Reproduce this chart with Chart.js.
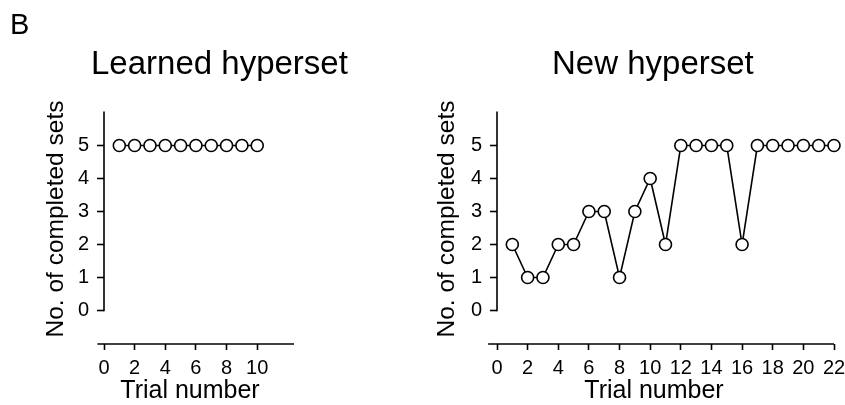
<!DOCTYPE html>
<html><head><meta charset="utf-8">
<script src="https://cdn.jsdelivr.net/npm/chart.js@4.4.0/dist/chart.umd.min.js"></script>
<style>
html,body{margin:0;padding:0;background:#fff;overflow:hidden;width:845px;height:405px;}
.t{position:absolute;font-family:"Liberation Sans",Arial,sans-serif;color:#000;white-space:nowrap;line-height:1;}
.xt{position:absolute;width:200px;text-align:center;font-family:"Liberation Sans",Arial,sans-serif;color:#000;white-space:nowrap;line-height:1;font-size:25px;top:377px;}
#wrapL{position:absolute;left:0;top:0;width:420px;height:405px;}
#wrapR{position:absolute;left:420px;top:0;width:425px;height:405px;}
</style></head><body>
<div id="wrapL"><canvas id="cL" width="420" height="405"></canvas></div>
<div id="wrapR"><canvas id="cR" width="425" height="405"></canvas></div>
<div class="t" style="left:10px;top:10px;font-size:29px;">B</div>
<div class="t" style="left:91px;top:46px;font-size:33px;">Learned hyperset</div>
<div class="t" style="left:552px;top:46px;font-size:33px;">New hyperset</div>
<div class="xt" id="xtL" style="left:90px;"></div>
<div class="xt" id="xtR" style="left:554px;"></div>
<script>
// ---- data ----
const learnedTrials = [1, 2, 3, 4, 5, 6, 7, 8, 9, 10];
const learnedSets   = [5, 5, 5, 5, 5, 5, 5, 5, 5, 5];
const newTrials = [1, 2, 3, 4, 5, 6, 7, 8, 9, 10, 11, 12, 13, 14, 15, 16, 17, 18, 19, 20, 21, 22];
const newSets   = [2, 1, 1, 2, 2, 3, 3, 1, 3, 4, 2, 5, 5, 5, 5, 2, 5, 5, 5, 5, 5, 5];
const yTickValues = [0, 1, 2, 3, 4, 5];
const learnedXTicks = [0, 2, 4, 6, 8, 10];
const newXTicks = [0, 2, 4, 6, 8, 10, 12, 14, 16, 18, 20, 22];
const yLabel = 'No. of completed sets';
const xLabel = 'Trial number';

document.getElementById('xtL').textContent = xLabel;
document.getElementById('xtR').textContent = xLabel;

const FONT = '"Liberation Sans", Arial, Helvetica, sans-serif';
Chart.defaults.font.family = FONT;
Chart.defaults.color = '#000';

const axisLines = {
  id: 'axisLines',
  beforeDatasetsDraw(chart, args, o) {
    const {ctx, chartArea, scales: {x, y}} = chart;
    ctx.save();
    ctx.strokeStyle = '#000';
    ctx.lineWidth = 1.6;
    const xp = x.getPixelForValue(0);
    ctx.beginPath();
    ctx.moveTo(xp, y.getPixelForValue(0) + 0.8);
    ctx.lineTo(xp, y.getPixelForValue(o.yTop));
    ctx.stroke();
    ctx.beginPath();
    ctx.moveTo(x.getPixelForValue(o.xFrom), chartArea.bottom);
    ctx.lineTo(x.getPixelForValue(o.xTo), chartArea.bottom);
    ctx.stroke();
    ctx.restore();
  }
};

function makeChart(id, trials, sets, xTicks, cfg) {
  const pts = trials.map((t, i) => ({x: t, y: sets[i]}));
  return new Chart(document.getElementById(id), {
    type: 'line',
    data: { datasets: [{
      data: pts,
      borderColor: '#000', borderWidth: 1.6, tension: 0,
      pointRadius: 6, pointBackgroundColor: '#fff', pointBorderColor: '#000', pointBorderWidth: 1.6,
      clip: false
    }]},
    options: {
      responsive: false, animation: false, events: [], devicePixelRatio: 1,
      layout: { padding: { top: 94, bottom: 0, left: 0, right: cfg.padRight } },
      plugins: { legend: {display: false}, tooltip: {enabled: false}, title: {display: false},
                 axisLines: { yTop: 6.03, xFrom: cfg.xFrom, xTo: cfg.xTo } },
      scales: {
        x: {
          type: 'linear', min: 0, max: cfg.xMax,
          afterBuildTicks: s => { s.ticks = xTicks.map(v => ({value: v})); },
          afterFit: s => { s.height = 61; s.paddingLeft = 0; s.paddingRight = 0; },
          border: {display: false},
          grid: {display: true, drawOnChartArea: false, drawTicks: true, tickLength: 6, tickWidth: 1.6, tickColor: '#000'},
          ticks: {color: '#000', font: {size: 20}, padding: 6, maxRotation: 0, autoSkip: false},
          title: {display: false}
        },
        y: {
          type: 'linear', min: -1.015, max: 6.561,
          afterBuildTicks: s => { s.ticks = yTickValues.map(v => ({value: v})); },
          afterFit: s => { s.width = cfg.yWidth; },
          border: {display: false},
          grid: {display: true, drawOnChartArea: false, drawTicks: true, tickLength: 7, tickWidth: 1.6, tickColor: '#000'},
          ticks: {color: '#000', font: {size: 20}, padding: 8},
          title: {display: true, text: yLabel, color: '#000', font: {size: 24.5, lineHeight: 1}, padding: {top: cfg.yTitlePad, bottom: 0}}
        }
      }
    },
    plugins: [axisLines]
  });
}

makeChart('cL', learnedTrials, learnedSets, learnedXTicks,
  {xMax: 12.4, padRight: 126, yWidth: 104, yTitlePad: 44, xFrom: -0.43, xTo: 12.4});
makeChart('cR', newTrials, newSets, newXTicks,
  {xMax: 22, padRight: 11, yWidth: 77, yTitlePad: 15, xFrom: -0.58, xTo: 22});
</script>
</body></html>
